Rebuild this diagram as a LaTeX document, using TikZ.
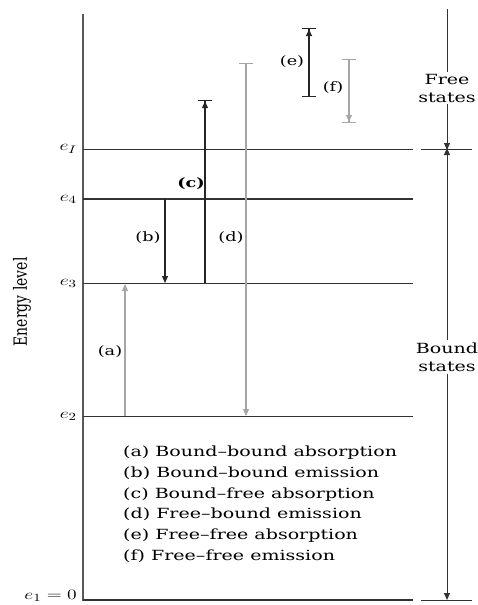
\documentclass[tikz,border=0pt]{standalone}
\usepackage{graphicx}
\usepackage{fontspec}
\setmainfont{DejaVu Serif}
\usetikzlibrary{arrows.meta}
\newcommand{\wx}[1]{\scalebox{1.36}[1]{#1}}
\begin{document}
\begin{tikzpicture}[x=1pt,y=-1pt,
  axisline/.style={line width=2pt, draw=black!65},
  lvl/.style={line width=1pt, draw=black!80},
  dk/.style={line width=1.2pt, draw=black!85},
  lt/.style={line width=1.2pt, draw=black!35},
  tip/.style={-{Triangle[length=7pt,width=6pt]}},
  lbl/.style={font=\fontsize{13}{14}\selectfont, inner sep=1pt},
  elbl/.style={font=\fontsize{15}{16}\selectfont, anchor=east, inner sep=1pt},
  rtxt/.style={font=\fontsize{14}{18}\selectfont, align=center, inner sep=2pt}
]
\useasboundingbox (0,0) rectangle (478,605);

% axis
\coordinate (axtop) at (83,14);
\coordinate (axbot) at (83,601);
\draw[axisline] (axtop) -- (axbot);

% levels
\coordinate (eIl) at (83,149);  \coordinate (eIr) at (413,149);
\coordinate (e4l) at (83,199);  \coordinate (e4r) at (413,199);
\coordinate (e3l) at (83,283);  \coordinate (e3r) at (413,283);
\coordinate (e2l) at (83,416);  \coordinate (e2r) at (413,416);
\coordinate (e1l) at (83,600);  \coordinate (e1r) at (413,600);
\draw[lvl] (eIl) -- (eIr);
\draw[lvl, line width=1.5pt] (e4l) -- (e4r);
\draw[lvl] (e3l) -- (e3r);
\draw[lvl] (e2l) -- (e2r);
\draw[lvl, line width=1.5pt] (e1l) -- (e1r);

% right short segments
\coordinate (sIl) at (421,149); \coordinate (sIr) at (472,149);
\coordinate (s1l) at (421,600); \coordinate (s1r) at (472,600);
\draw[lvl] (sIl) -- (sIr);
\draw[lvl] (s1l) -- (s1r);

% level labels
\node[elbl] (lI) at (78,149) {\wx{$e_I$}};
\node[elbl] (l4) at (78,199) {\wx{$e_4$}};
\node[elbl] (l3) at (78,283) {\wx{$e_3$}};
\node[elbl] (l2) at (78,416) {\wx{$e_2$}};
\node[elbl] (l1) at (78,596) {\wx{$e_1 = 0$}};

% Energy level
\node[rotate=90, font=\fontsize{14}{15}\selectfont] (elev) at (22,302) {\scalebox{1}[1.3]{Energy level}};

% right side brackets
\coordinate (rtop) at (447,9);
\coordinate (rmid) at (447,149);
\coordinate (rbot) at (447,600);
\node[rtxt] (free) at (447,88) {\wx{Free}\\\wx{states}};
\node[rtxt] (bound) at (447,357) {\wx{Bound}\\\wx{states}};
\draw[lvl] (rtop) -- (free.north);
\draw[lvl, tip] (free.south) -- ([yshift=-1pt]rmid);
\draw[lvl, tip] (bound.north) -- ([yshift=1pt]rmid);
\draw[lvl, tip] (bound.south) -- (rbot);

% (a) bound-bound absorption
\coordinate (a0) at (125,416); \coordinate (a1) at (125,284);
\draw[lt, tip] (a0) -- (a1);
\node[lbl] (la) at (110,352) {\wx{(a)}};

% (b) bound-bound emission
\coordinate (b0) at (165,199); \coordinate (b1) at (165,283);
\draw[dk, tip] (b0) -- (b1);
\node[lbl] (lb) at (148,238) {\wx{(b)}};

% (c) bound-free absorption
\coordinate (c0) at (205,283); \coordinate (c1) at (205,100);
\draw[dk, -{Triangle[length=7pt,width=6pt,sep=0pt]Bar[width=14pt]}] (c0) -- (c1);
\node[lbl, font=\fontsize{13}{14}\selectfont\bfseries] (lc) at (191,184) {\wx{(c)}};

% (d) free-bound emission
\coordinate (d0) at (246,63); \coordinate (d1) at (246,416);
\draw[lt, {Bar[width=14pt]}-{Triangle[length=7pt,width=6pt]}] (d0) -- (d1);
\node[lbl] (ld) at (231,238) {\wx{(d)}};

% (e) free-free absorption
\coordinate (ee0) at (309,97); \coordinate (ee1) at (309,28);
\draw[dk, line width=2pt, {Bar[width=14pt,line width=1.2pt]}-{Triangle[length=7pt,width=6pt,sep=0pt]Bar[width=14pt,line width=1.2pt]}] (ee0) -- (ee1);
\node[lbl] (le) at (292,62) {\wx{(e)}};

% (f) free-free emission
\coordinate (f0) at (349,59); \coordinate (f1) at (349,123);
\draw[lt, {Bar[width=14pt]}-{Triangle[length=7pt,width=6pt,sep=0pt]Bar[width=14pt]}] (f0) -- (f1);
\node[lbl] (lf) at (333,88) {\wx{(f)}};

% legend
\node[anchor=north west, align=left, inner sep=0pt,
      font=\fontsize{14}{20.7}\selectfont] (legend) at (123,446)
  {\wx{(a) Bound--bound absorption}\\
   \wx{(b) Bound--bound emission}\\
   \wx{(c) Bound--free absorption}\\
   \wx{(d) Free--bound emission}\\
   \wx{(e) Free--free absorption}\\
   \wx{(f) Free--free emission}};
\end{tikzpicture}
\end{document}
